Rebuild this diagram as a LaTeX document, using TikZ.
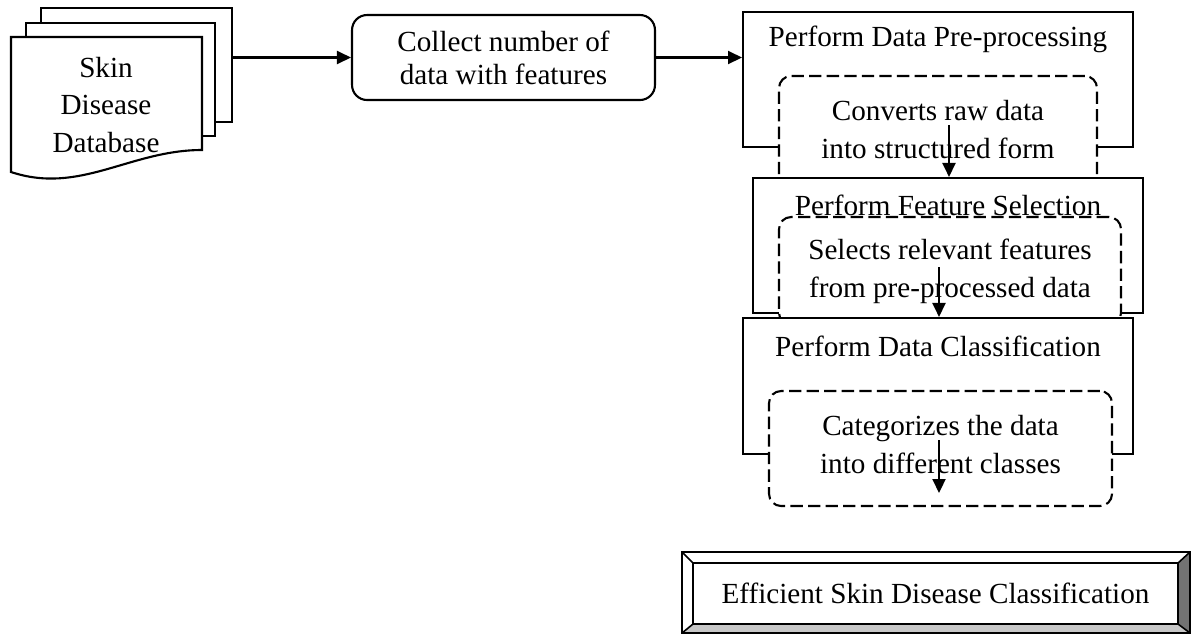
\documentclass[tikz,border=0pt]{standalone}
\usepackage{fontspec}
\setmainfont{Liberation Serif}
\usetikzlibrary{arrows.meta,calc}
\tikzset{
	solidbox/.style={draw, line width=1.2pt, fill=white, minimum width=7.8cm, minimum height=2.7cm},
	dashbox/.style={draw, line width=1.2pt, fill=white, rounded corners=0.24cm, dash pattern=on 7pt off 3pt, align=center},
	collectbox/.style={draw, line width=1.2pt, rounded corners=0.3cm, align=center, minimum width=6.06cm, minimum height=1.7cm},
	arr/.style={line width=1.2pt, -{Triangle[length=0.28cm,width=0.26cm]}},
	sheet/.style={draw, line width=1.2pt, fill=white}
}

\begin{document}
\begin{tikzpicture}[x=0.02cm, y=-0.02cm, font=\fontsize{16.6}{21.5}\selectfont]
			%%%%% START %%%%%
			\useasboundingbox (0,0) rectangle (1192,633);
			
			% database stack
			\draw[sheet] (41,8) rectangle (232,122);
			\draw[sheet] (26,23) rectangle (215,136);
			\draw[sheet] (11,37) -- (202,37) -- (202,150) .. controls (130,150) and (80,195) .. (11,172) -- cycle;
			\node[align=center] (db) at (106,105) {Skin\\Disease\\Database};
			\coordinate (dbout) at (232,57.5);
			
			\node[collectbox, font=\fontsize{16.6}{18.7}\selectfont] (collect) at (503.5,57.5) {Collect number of\\data with features};
			
			% pre-processing
			\node[solidbox] (prep) at (938,79.5) {};
			\node (prept) at (938,39) {Perform Data Pre-processing};
			\node[dashbox, minimum width=6.36cm, minimum height=2.28cm] (conv) at (938,133) {};
			\node[align=center] (convt) at (938,129.5) {Converts raw data\\into structured form};
			
			% feature selection
			\node[solidbox] (fsel) at (948,245.5) {};
			\node (fselt) at (948,205) {Perform Feature Selection};
			\node[dashbox, minimum width=6.84cm, minimum height=2.16cm] (sel) at (950,271) {Selects relevant features\\from pre-processed data};
			
			% classification
			\node[solidbox, minimum height=2.72cm] (clas) at (938,386) {};
			\node (clast) at (938,346) {Perform Data Classification};
			\node[dashbox, minimum width=6.86cm, minimum height=2.3cm] (cat) at (940.5,448.5) {};
			\node[align=center] (catt) at (940.5,444.5) {Categorizes the data\\into different classes};
			
			% result
			\fill[white] (682,552) rectangle (1190,633);
			\fill[black!55] (1190,552) -- (1178,563) -- (1178,624) -- (1190,633) -- cycle;
			\fill[black!22] (682,633) -- (693,624) -- (1178,624) -- (1190,633) -- cycle;
			\draw[line width=1.2pt] (682,552) rectangle (1190,633);
			\draw[line width=0.9pt] (682,552) -- (693,563) (1190,552) -- (1178,563) (682,633) -- (693,624) (1190,633) -- (1178,624);
			\node[draw, line width=1.2pt, fill=white, minimum width=9.7cm, minimum height=1.22cm] (final) at (935.5,593.5) {Efficient Skin Disease Classification};
			
			% arrows
			\coordinate (a1) at (949,125);
			\coordinate (a2) at (939,267);
			\coordinate (a3) at (939,440);
			\coordinate (a3end) at (939,493);
			\draw[arr] (dbout) -- (collect.west);
			\draw[arr] (collect.east) -- (collect.east -| prep.west);
			\draw[arr] (a1) -- (a1 |- fsel.north);
			\draw[arr] (a2) -- (a2 |- clas.north);
			\draw[arr] (a3) -- (a3end);
			%%%%% END %%%%%
\end{tikzpicture}
\end{document}
